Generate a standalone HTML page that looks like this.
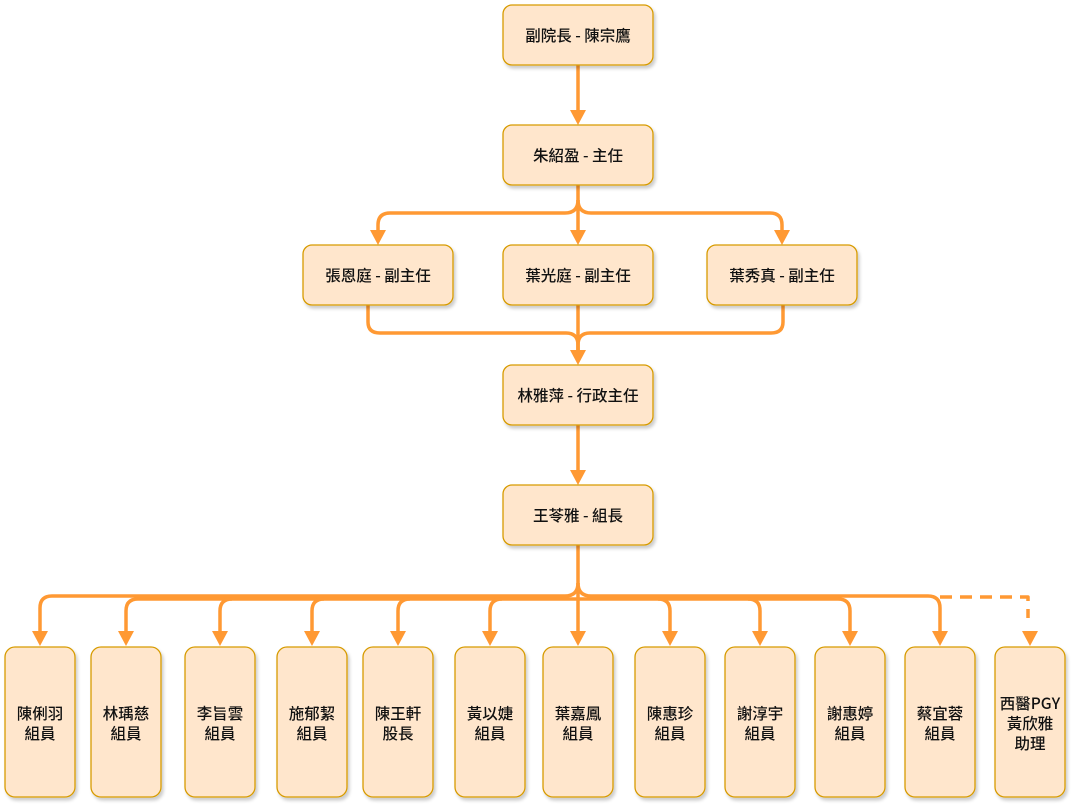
<!DOCTYPE html>
<html><head><meta charset="utf-8"><style>
html,body{margin:0;padding:0;background:#fff;width:1074px;height:805px;overflow:hidden}
text{font-family:"Noto Sans CJK TC","Liberation Sans",sans-serif;font-size:15.5px;font-weight:500;fill:#111;text-anchor:middle}
.b{fill:#ffe6cc;stroke:#d79b00;stroke-width:1.3}
.l{fill:none;stroke:#ff9933;stroke-width:3.5;stroke-linejoin:round}
.a{fill:#ff9933}
</style></head><body>
<svg width="1074" height="805" xmlns="http://www.w3.org/2000/svg">
<defs><filter id="s" x="-20%" y="-20%" width="150%" height="150%"><feDropShadow dx="2" dy="3" stdDeviation="1.5" flood-color="#000" flood-opacity="0.2"/></filter></defs>
<g class="l">
<path d="M578 65 V112"/>
<path d="M578 185 V232"/>
<path d="M578 200 Q578 213 565 213 H390 Q378 213 378 225 V232"/>
<path d="M578 200 Q578 213 591 213 H770 Q782 213 782 225 V232"/>
<path d="M368 305 V322 Q368 333 380 333 H566 Q578 333 578 345 V352"/>
<path d="M783 305 V322 Q783 333 771 333 H590 Q578 333 578 345 V352"/>
<path d="M578 305 V352"/>
<path d="M578 425 V472"/>
<path d="M578 545 V632"/>
<path d="M578 583 Q578 596 565 596 H52 Q40 596 40 608 V632"/>
<path d="M578 583 Q578 596 591 596 H928 Q940 596 940 608 V632"/>
<path d="M126 632 V611 Q126 599 138 599 H578"/>
<path d="M220 611 V632 M232 599 Q220 599 220 611"/>
<path d="M312 611 V632 M324 599 Q312 599 312 611"/>
<path d="M398 611 V632 M410 599 Q398 599 398 611"/>
<path d="M490 611 V632 M502 599 Q490 599 490 611"/>
<path d="M578 599 H838 Q850 599 850 611 V632"/>
<path d="M658 599 Q670 599 670 611 V632"/>
<path d="M748 599 Q760 599 760 611 V632"/>
<path d="M940 597 H1028 V618" stroke-dasharray="12 8"/>
</g>
<g class="a">
<path d="M570 110 L586 110 L578 125Z"/>
<path d="M570 230 L586 230 L578 245Z"/>
<path d="M370 230 L386 230 L378 245Z"/>
<path d="M774 230 L790 230 L782 245Z"/>
<path d="M570 350 L586 350 L578 365Z"/>
<path d="M570 470 L586 470 L578 485Z"/>
<path d="M32 631 L48 631 L40 646Z"/>
<path d="M118 631 L134 631 L126 646Z"/>
<path d="M212 631 L228 631 L220 646Z"/>
<path d="M304 631 L320 631 L312 646Z"/>
<path d="M390 631 L406 631 L398 646Z"/>
<path d="M482 631 L498 631 L490 646Z"/>
<path d="M570 631 L586 631 L578 646Z"/>
<path d="M662 631 L678 631 L670 646Z"/>
<path d="M752 631 L768 631 L760 646Z"/>
<path d="M842 631 L858 631 L850 646Z"/>
<path d="M932 631 L948 631 L940 646Z"/>
<path d="M1022 631 L1038 631 L1030 646Z"/>
</g>
<g filter="url(#s)">
<rect class="b" x="503" y="5" width="150" height="60" rx="9"/>
<rect class="b" x="503" y="125" width="150" height="60" rx="9"/>
<rect class="b" x="303" y="245" width="150" height="60" rx="9"/>
<rect class="b" x="503" y="245" width="150" height="60" rx="9"/>
<rect class="b" x="707" y="245" width="150" height="60" rx="9"/>
<rect class="b" x="503" y="365" width="150" height="60" rx="9"/>
<rect class="b" x="503" y="485" width="150" height="60" rx="9"/>
<rect class="b" x="5" y="647" width="70" height="150" rx="10"/>
<rect class="b" x="91" y="647" width="70" height="150" rx="10"/>
<rect class="b" x="185" y="647" width="70" height="150" rx="10"/>
<rect class="b" x="277" y="647" width="70" height="150" rx="10"/>
<rect class="b" x="363" y="647" width="70" height="150" rx="10"/>
<rect class="b" x="455" y="647" width="70" height="150" rx="10"/>
<rect class="b" x="543" y="647" width="70" height="150" rx="10"/>
<rect class="b" x="635" y="647" width="70" height="150" rx="10"/>
<rect class="b" x="725" y="647" width="70" height="150" rx="10"/>
<rect class="b" x="815" y="647" width="70" height="150" rx="10"/>
<rect class="b" x="905" y="647" width="70" height="150" rx="10"/>
<rect class="b" x="995" y="647" width="70" height="150" rx="10"/>
</g>
<text x="578" y="41">副院長 - 陳宗鷹</text>
<text x="578" y="161">朱紹盈 - 主任</text>
<text x="378" y="281">張恩庭 - 副主任</text>
<text x="578" y="281">葉光庭 - 副主任</text>
<text x="782" y="281">葉秀真 - 副主任</text>
<text x="578" y="401">林雅萍 - 行政主任</text>
<text x="578" y="521">王苓雅 - 組長</text>
<text x="40" y="719">陳俐羽</text><text x="40" y="739">組員</text>
<text x="126" y="719">林瑀慈</text><text x="126" y="739">組員</text>
<text x="220" y="719">李旨雲</text><text x="220" y="739">組員</text>
<text x="312" y="719">施郁絜</text><text x="312" y="739">組員</text>
<text x="398" y="719">陳王軒</text><text x="398" y="739">股長</text>
<text x="490" y="719">黃以婕</text><text x="490" y="739">組員</text>
<text x="578" y="719">葉嘉鳳</text><text x="578" y="739">組員</text>
<text x="670" y="719">陳惠珍</text><text x="670" y="739">組員</text>
<text x="760" y="719">謝淳宇</text><text x="760" y="739">組員</text>
<text x="850" y="719">謝惠婷</text><text x="850" y="739">組員</text>
<text x="940" y="719">蔡宜蓉</text><text x="940" y="739">組員</text>
<text x="1030" y="709">西醫PGY</text><text x="1030" y="729">黃欣雅</text><text x="1030" y="749">助理</text>
</svg>
</body></html>
